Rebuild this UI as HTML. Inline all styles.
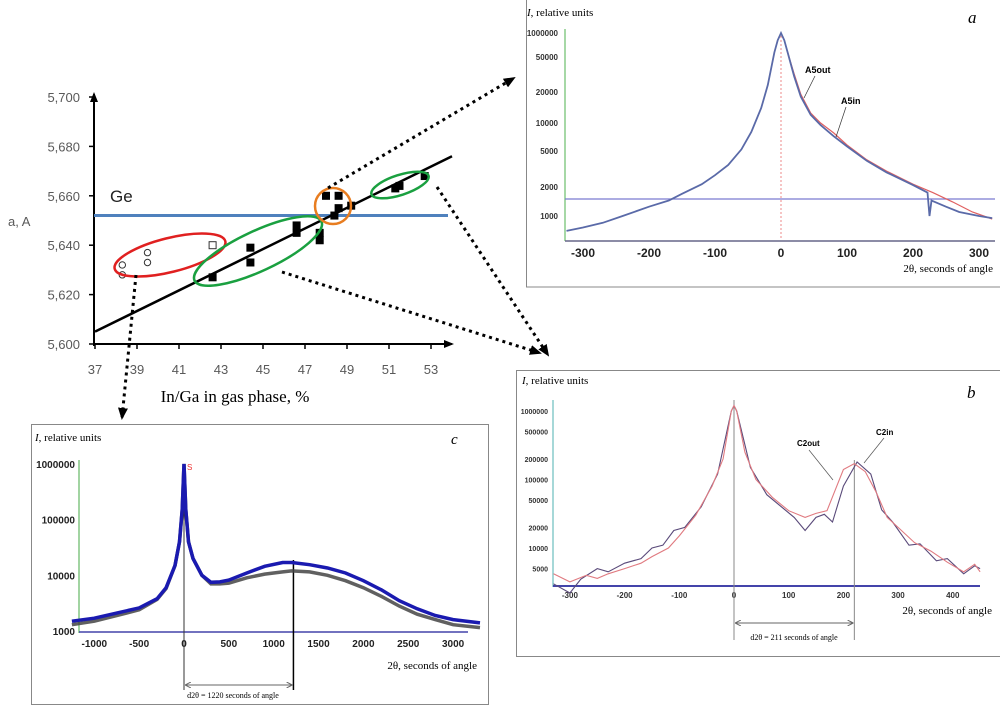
<!DOCTYPE html>
<html><head><meta charset="utf-8"><style>
body{margin:0;background:#fff;}
svg{display:block;}
text{font-family:"Liberation Sans",sans-serif;}
.serif{font-family:"Liberation Serif",serif;}
</style></head><body>
<svg id="fig" width="1000" height="705" viewBox="0 0 1000 705">
<defs>
<marker id="ah" markerUnits="userSpaceOnUse" markerWidth="12" markerHeight="10" refX="10" refY="5" orient="auto"><path d="M0,0 L12,5 L0,10 z" fill="#000"/></marker>
<marker id="ax" markerUnits="userSpaceOnUse" markerWidth="10" markerHeight="8" refX="8" refY="4" orient="auto"><path d="M0,0 L10,4 L0,8 z" fill="#000"/></marker>
<marker id="ah2" markerUnits="userSpaceOnUse" markerWidth="6" markerHeight="6" refX="5" refY="3" orient="auto-start-reverse"><path d="M0,0 L6,3 L0,6" fill="none" stroke="#666" stroke-width="1"/></marker>
</defs>
<g id="main"></g>
<g id="pa"></g>
<g id="pb"></g>
<g id="pc"></g>
<g id="arrows"></g>
</svg>
<script>
// ---- Main chart data ----
const xTicks=[37,39,41,43,45,47,49,51,53];
const yTicks=[5.600,5.620,5.640,5.660,5.680,5.700];
const yTickLabels=["5,600","5,620","5,640","5,660","5,680","5,700"];
const filledX=[42.6,44.4,44.4,46.6,46.6,47.7,47.7,48.0,48.6,48.6,48.4,49.2,51.3,51.5,52.7];
const filledY=[5.627,5.639,5.633,5.648,5.645,5.645,5.642,5.660,5.660,5.655,5.652,5.656,5.663,5.664,5.668];
const openCircX=[38.3,38.3,39.5,39.5];
const openCircY=[5.632,5.628,5.637,5.633];
const openSqX=[42.6];
const openSqY=[5.640];
const geValue=5.652;
const fitX=[37,54];
const fitY=[5.605,5.676];

// ---- Panel a data ----
const aTicksX=[-300,-200,-100,0,100,200,300];
const aTickVals=[1000,2000,5000,10000,20000,50000,1000000];
const aTickLabels=["1000","2000","5000","10000","20000","50000","1000000"];
const aInX=[-325,-300,-270,-240,-200,-170,-150,-120,-100,-80,-60,-45,-30,-20,-10,-5,0,5,10,20,30,45,60,80,100,130,160,200,222,225,228,250,270,300,320];
const aInY=[700,760,850,1000,1250,1450,1700,2150,2700,3500,5200,8000,14000,24000,90000,400000,1000000,400000,90000,30000,18000,12000,9500,7200,5600,3900,2900,2100,1750,1000,1450,1250,1100,1000,950];
const aOutX=[0,5,10,20,30,45,60,80,100,130,160,200,230,260,290,320];
const aOutY=[1000000,400000,90000,32000,19000,12500,10000,7800,5800,4000,3000,2150,1750,1400,1100,930];
const aBaseline=1500;

// ---- Panel b data ----
const bTicksX=[-300,-200,-100,0,100,200,300,400];
const bTickVals=[5000,10000,20000,50000,100000,200000,500000,1000000];
const bTickLabels=["5000","10000","20000","50000","100000","200000","500000","1000000"];
const bOutX=[-330,-300,-270,-250,-230,-200,-170,-150,-120,-100,-70,-40,-20,-5,0,5,20,40,70,100,130,150,170,185,200,220,240,260,280,300,330,360,390,420,440,450];
const bOutY=[4200,3200,4000,3600,4200,5000,6000,7500,10000,15000,30000,80000,200000,1000000,1200000,1000000,250000,100000,55000,35000,28000,32000,35000,70000,140000,170000,130000,65000,28000,20000,12000,9000,6200,4500,5800,4500];
const bInX=[-330,-300,-280,-250,-230,-200,-170,-150,-130,-110,-90,-60,-30,-5,0,5,30,60,90,110,130,150,165,180,200,225,250,270,290,320,340,370,390,420,440,450];
const bInY=[3000,2200,3500,5000,4500,6000,7000,10000,11000,18000,20000,40000,120000,1000000,1200000,1000000,150000,60000,38000,28000,18000,28000,31000,24000,80000,180000,120000,36000,24000,11000,11500,6500,7000,4200,5500,5000];

// ---- Panel c data ----
const cTicksX=[-1000,-500,0,500,1000,1500,2000,2500,3000];
const cTickVals=[1000,10000,100000,1000000];
const cTickLabels=["1000","10000","100000","1000000"];
const cBlueX=[-1250,-1000,-750,-500,-300,-200,-100,-50,-20,0,20,50,100,200,300,400,500,700,900,1100,1200,1400,1600,1800,2000,2200,2400,2600,2800,3000,3300];
const cBlueY=[1500,1700,2100,2600,3800,6000,15000,40000,150000,1000000,150000,40000,20000,10000,7500,7600,8200,11000,14500,17000,17000,15500,13500,11000,8000,5500,3500,2500,1900,1600,1400];
const cBlackX=[-1250,-1000,-750,-500,-300,-200,-100,-50,-20,0,20,50,100,200,300,400,500,700,900,1100,1200,1400,1600,1800,2000,2200,2400,2600,2800,3000,3300];
const cBlackY=[1300,1500,1900,2400,3700,5800,15000,40000,150000,1000000,150000,40000,20000,10000,7000,7000,7200,9000,10500,11500,12000,11500,10000,8000,6000,4200,2800,2000,1600,1300,1150];

const NS="http://www.w3.org/2000/svg";
function mk(parent,tag,attrs,txt){const e=document.createElementNS(NS,tag);for(const k in attrs)e.setAttribute(k,attrs[k]);if(txt!==undefined)e.textContent=txt;parent.appendChild(e);return e;}

// ===== Main chart =====
(function(){
const g=document.getElementById('main');
const X=v=>95+(v-37)*21;
const Y=v=>344-(v-5.6)*2470;
let e;
e=mk(g,'line',{x1:94,y1:346,x2:94,y2:94,stroke:'#000','stroke-width':2,'marker-end':'url(#ax)'});


e=mk(g,'line',{x1:93,y1:344,x2:452,y2:344,stroke:'#000','stroke-width':2,'marker-end':'url(#ax)'});


yTicks.forEach((v,i)=>{
 mk(g,'line',{x1:89,y1:Y(v),x2:94,y2:Y(v),stroke:'#000','stroke-width':1.5});
 e=mk(g,'text',{x:80,y:Y(v)+5,'text-anchor':'end','font-size':13,fill:'#595959'},yTickLabels[i]);
 
 
});
xTicks.forEach(v=>{
 mk(g,'line',{x1:X(v),y1:344,x2:X(v),y2:349,stroke:'#000','stroke-width':1.5});
 e=mk(g,'text',{x:X(v),y:374,'text-anchor':'middle','font-size':13,fill:'#595959'},String(v));
 
 
});
e=mk(g,'text',{x:8,y:226,'font-size':13,fill:'#595959'},'a, A');


e=mk(g,'text',{x:235,y:402,'text-anchor':'middle','font-size':17,class:'serif'},'In/Ga in gas phase, %');


e=mk(g,'line',{x1:94,y1:Y(geValue),x2:448,y2:Y(geValue),stroke:'#4f81bd','stroke-width':3});


e=mk(g,'text',{x:110,y:202,'font-size':17,fill:'#222'},'Ge');


e=mk(g,'line',{x1:X(fitX[0]),y1:Y(fitY[0]),x2:X(fitX[1]),y2:Y(fitY[1]),stroke:'#000','stroke-width':2.5});


filledX.forEach((v,i)=>{
 e=mk(g,'rect',{x:X(v)-4,y:Y(filledY[i])-4,width:8,height:8,fill:'#000'});
 
 
});
openCircX.forEach((v,i)=>{
 e=mk(g,'circle',{cx:X(v),cy:Y(openCircY[i]),r:3.2,fill:'#fff',stroke:'#333','stroke-width':1});
 
 
});
openSqX.forEach((v,i)=>{
 e=mk(g,'rect',{x:X(v)-3.5,y:Y(openSqY[i])-3.5,width:7,height:7,fill:'#fff',stroke:'#333','stroke-width':1});
 
 
});
e=mk(g,'ellipse',{cx:170,cy:255,rx:57,ry:17,fill:'none',stroke:'#e02020','stroke-width':2.5,transform:'rotate(-14 170 255)'});


e=mk(g,'ellipse',{cx:258,cy:251,rx:70,ry:20,fill:'none',stroke:'#1aa040','stroke-width':2.5,transform:'rotate(-25 258 251)'});


e=mk(g,'circle',{cx:333,cy:206,r:18,fill:'none',stroke:'#e87d20','stroke-width':2.5});


e=mk(g,'ellipse',{cx:400,cy:185,rx:30,ry:10,fill:'none',stroke:'#1aa040','stroke-width':2.5,transform:'rotate(-18 400 185)'});


})();

function logInterp(vals,pos,v){
 const lv=Math.log10(v);
 for(let i=0;i<vals.length-1;i++){
  const a=Math.log10(vals[i]),b=Math.log10(vals[i+1]);
  if(lv<=b||i===vals.length-2){return pos[i]+(lv-a)/(b-a)*(pos[i+1]-pos[i]);}
 }
}
function path(xs,ys,X,Y){return xs.map((v,i)=>(i?'L':'M')+X(v).toFixed(1)+','+Y(ys[i]).toFixed(1)).join(' ');}

// ===== Panel a =====
(function(){
const g=document.getElementById('pa');
const X=v=>781+v*0.66;
const aTickPos=[216,187,151,123,92,57,33];
const Y=v=>logInterp(aTickVals,aTickPos,v);
let e;
e=mk(g,'rect',{x:526.5,y:-1,width:480,height:288,fill:'#fff',stroke:'#888','stroke-width':1});


mk(g,'line',{x1:565,y1:29,x2:565,y2:241,stroke:'#8c8','stroke-width':1.5});
mk(g,'line',{x1:565,y1:241,x2:995,y2:241,stroke:'#668','stroke-width':1.5});
aTickVals.forEach((v,i)=>{e=mk(g,'text',{x:558,y:aTickPos[i]+3,'text-anchor':'end','font-size':8,'font-weight':'bold',fill:'#333'},aTickLabels[i]);
 
 });
aTicksX.forEach(v=>{e=mk(g,'text',{x:X(v),y:257,'text-anchor':'middle','font-size':12,'font-weight':'bold',fill:'#222'},String(v));
 
 });
e=mk(g,'line',{x1:565,y1:Y(aBaseline),x2:995,y2:Y(aBaseline),stroke:'#7a7ad0','stroke-width':1.2});


mk(g,'line',{x1:X(0),y1:32,x2:X(0),y2:240,stroke:'#e88','stroke-width':1,'stroke-dasharray':'2,2'});
e=mk(g,'path',{d:path(aOutX,aOutY,X,Y),fill:'none',stroke:'#e06060','stroke-width':1.2});


e=mk(g,'path',{d:path(aInX,aInY,X,Y),fill:'none',stroke:'#5a6aa8','stroke-width':1.8});


e=mk(g,'text',{x:805,y:73,'font-size':9,'font-weight':'bold'},'A5out');


mk(g,'line',{x1:815,y1:76,x2:804,y2:98,stroke:'#333','stroke-width':0.7});
e=mk(g,'text',{x:841,y:104,'font-size':9,'font-weight':'bold'},'A5in');


mk(g,'line',{x1:846,y1:107,x2:836,y2:137,stroke:'#333','stroke-width':0.7});
e=mk(g,'text',{x:527,y:16,'font-size':11,class:'serif'},'');
e.innerHTML='<tspan font-style="italic">I</tspan>, relative units';


e=mk(g,'text',{x:993,y:272,'text-anchor':'end','font-size':11,class:'serif'},'2θ, seconds of angle');


e=mk(g,'text',{x:968,y:23,'font-size':17,'font-style':'italic',class:'serif'},'a');


})();

// ===== Panel b =====
(function(){
const g=document.getElementById('pb');
const X=v=>734+v*0.547;
const Y=v=>411+(6-Math.log10(v))*68.5;
let e;
e=mk(g,'rect',{x:516.5,y:370.5,width:490,height:286,fill:'#fff',stroke:'#888','stroke-width':1});


mk(g,'line',{x1:553,y1:400,x2:553,y2:587,stroke:'#8cc','stroke-width':1.5});
mk(g,'line',{x1:553,y1:586,x2:980,y2:586,stroke:'#44a','stroke-width':2});
bTickVals.forEach((v,i)=>{e=mk(g,'text',{x:548,y:Y(v)+3,'text-anchor':'end','font-size':7,'font-weight':'bold',fill:'#333'},bTickLabels[i]);
 
 });
bTicksX.forEach(v=>{e=mk(g,'text',{x:X(v),y:598,'text-anchor':'middle','font-size':8,'font-weight':'bold',fill:'#333'},String(v));
 
 });
mk(g,'line',{x1:X(0),y1:400,x2:X(0),y2:640,stroke:'#888','stroke-width':1});
mk(g,'line',{x1:X(220),y1:460,x2:X(220),y2:640,stroke:'#888','stroke-width':1});
mk(g,'line',{x1:X(0)+2,y1:623,x2:X(220)-2,y2:623,stroke:'#666','stroke-width':1,'marker-start':'url(#ah2)','marker-end':'url(#ah2)'});
e=mk(g,'path',{d:path(bInX,bInY,X,Y),fill:'none',stroke:'#5a4a7a','stroke-width':1.1});


e=mk(g,'path',{d:path(bOutX,bOutY,X,Y),fill:'none',stroke:'#e07a80','stroke-width':1.1});


e=mk(g,'text',{x:797,y:446,'font-size':8,'font-weight':'bold'},'C2out');


mk(g,'line',{x1:809,y1:450,x2:833,y2:480,stroke:'#555','stroke-width':0.7});
e=mk(g,'text',{x:876,y:435,'font-size':8,'font-weight':'bold'},'C2in');


mk(g,'line',{x1:884,y1:438,x2:864,y2:463,stroke:'#555','stroke-width':0.7});
e=mk(g,'text',{x:522,y:384,'font-size':11,class:'serif'},'');
e.innerHTML='<tspan font-style="italic">I</tspan>, relative units';


e=mk(g,'text',{x:992,y:614,'text-anchor':'end','font-size':11,class:'serif'},'2θ, seconds of angle');


e=mk(g,'text',{x:794,y:640,'text-anchor':'middle','font-size':8,class:'serif'},'d2θ = 211 seconds of angle');


e=mk(g,'text',{x:967,y:398,'font-size':17,'font-style':'italic',class:'serif'},'b');


})();

// ===== Panel c =====
(function(){
const g=document.getElementById('pc');
const X=v=>184+v*0.0897;
const Y=v=>631-(Math.log10(v)-3)*55.7;
let e;
e=mk(g,'rect',{x:31.5,y:424.5,width:457,height:280,fill:'#fff',stroke:'#888','stroke-width':1});


mk(g,'line',{x1:79,y1:460,x2:79,y2:633,stroke:'#4a4','stroke-width':1});
mk(g,'line',{x1:79,y1:632,x2:468,y2:632,stroke:'#44a','stroke-width':1.5});
cTickVals.forEach((v,i)=>{e=mk(g,'text',{x:75,y:Y(v)+4,'text-anchor':'end','font-size':10,'font-weight':'bold',fill:'#222'},cTickLabels[i]);
 
 });
cTicksX.forEach(v=>{e=mk(g,'text',{x:X(v),y:647,'text-anchor':'middle','font-size':10,'font-weight':'bold',fill:'#222'},String(v));
 
 });
mk(g,'line',{x1:X(0),y1:464,x2:X(0),y2:690,stroke:'#333','stroke-width':1});
mk(g,'line',{x1:X(1220),y1:560,x2:X(1220),y2:690,stroke:'#000','stroke-width':1.5});
mk(g,'line',{x1:X(0)+2,y1:685,x2:X(1220)-2,y2:685,stroke:'#666','stroke-width':1,'marker-start':'url(#ah2)','marker-end':'url(#ah2)'});
e=mk(g,'path',{d:path(cBlackX,cBlackY,X,Y),fill:'none',stroke:'#444','stroke-width':3.5,'stroke-opacity':0.85});


e=mk(g,'path',{d:path(cBlueX,cBlueY,X,Y),fill:'none',stroke:'#1a1ab0','stroke-width':3.5});


e=mk(g,'text',{x:187,y:470,'font-size':8,fill:'#e33'},'S');


e=mk(g,'text',{x:35,y:441,'font-size':11,class:'serif'},'');
e.innerHTML='<tspan font-style="italic">I</tspan>, relative units';


e=mk(g,'text',{x:477,y:669,'text-anchor':'end','font-size':11,class:'serif'},'2θ, seconds of angle');


e=mk(g,'text',{x:233,y:698,'text-anchor':'middle','font-size':8,class:'serif'},'d2θ = 1220 seconds of angle');


e=mk(g,'text',{x:451,y:444,'font-size':15,'font-style':'italic',class:'serif'},'c');


})();

// ===== Connector arrows =====
(function(){
const g=document.getElementById('arrows');
const lines=[[328,188,514,78],[437,187,548,355],[282,272,540,353],[136,275,122,418]];
lines.forEach(l=>{
 const e=mk(g,'line',{x1:l[0],y1:l[1],x2:l[2],y2:l[3],stroke:'#000','stroke-width':3,'stroke-dasharray':'3,4','marker-end':'url(#ah)'});
 
 
});
})();
</script>
</body></html>
